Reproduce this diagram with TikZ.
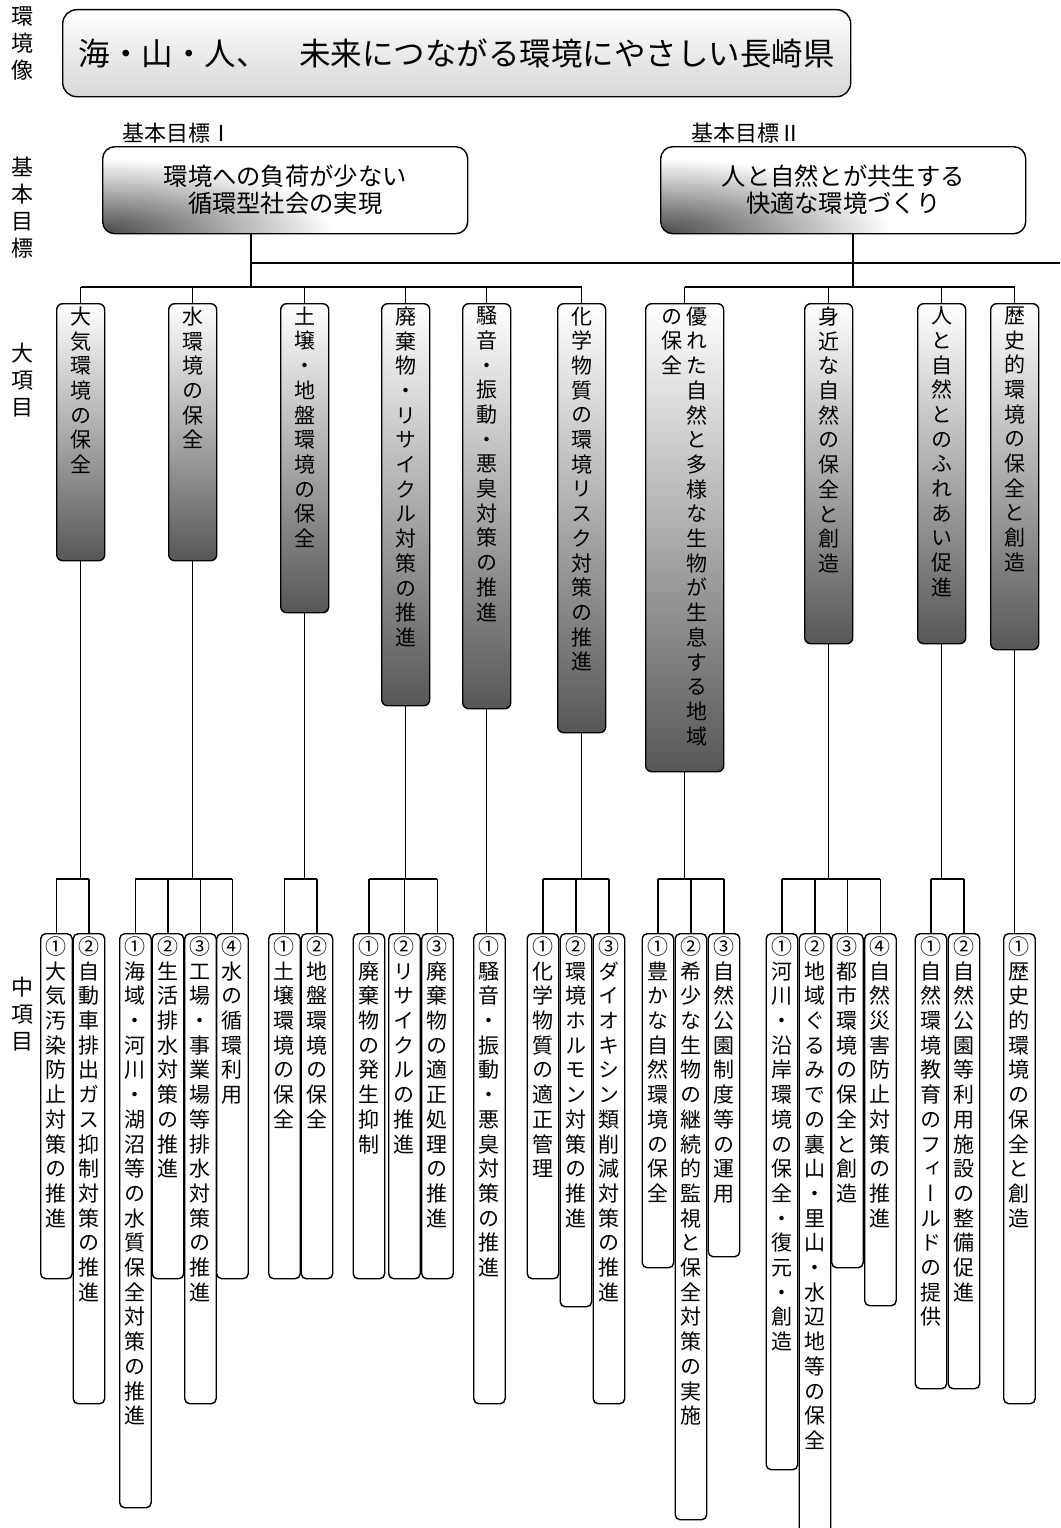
\documentclass[tikz,border=0pt]{standalone}
\usepackage{fontspec}
\setmainfont{Noto Sans CJK JP}
\newfontfamily\jp{Noto Sans CJK JP}
\newfontfamily\jpv{Noto Sans CJK JP}[RawFeature=+vert]

% vertical text: one character per line
\makeatletter
\newcommand\tate[2][24.7pt]{\vtop{\baselineskip=#1\lineskiplimit=-\maxdimen\lineskip=0pt
  \@tfor\tate@c:=#2\do{\hbox to 1em{\hss\tate@c\hss}}}}
\makeatother

% dark corner of the goal boxes
\colorlet{gdark}{black!72}
\pgfdeclareradialshading{goalshade}{\pgfpointorigin}{color(0bp)=(gdark); color(100bp)=(white); color(170bp)=(white)}

\begin{document}
\begin{tikzpicture}[x=1pt,y=-1pt,line width=1.4pt,
  side/.style={anchor=north,inner sep=0pt,font=\jp\fontsize{22}{27}\selectfont},
  tag/.style={inner sep=0pt,font=\jp\fontsize{22}{22}\selectfont},
  vision/.style={draw,rounded corners=14pt,top color=white,bottom color=black!16,
    anchor=north west,inner sep=0pt,font=\jp\fontsize{31.5}{31.5}\selectfont},
  goal/.style={draw,rounded corners=12pt,fill=white,
    path picture={\pgftransformshift{\pgfpointanchor{path picture bounding box}{south west}}
      \pgftransformxscale{2.3}\pgftransformyscale{0.75}\pgflowlevelsynccm\pgfuseshading{goalshade}},
    anchor=north west,minimum width=365,minimum height=87,inner sep=0pt,align=center,
    font=\jp\fontsize{24.3}{27}\selectfont},
  big/.style={draw,rounded corners=6pt,top color=white,middle color=black!20,bottom color=black!66,
    anchor=north west,minimum width=48,inner sep=0pt},
  mid/.style={draw,rounded corners=5pt,fill=white,anchor=north west,minimum width=31.5,inner sep=0pt},
  btxt/.style={anchor=north,inner sep=0pt,yshift=-3pt,font=\jpv\fontsize{21}{24.7}\selectfont},
  mtxt/.style={anchor=north,inner sep=0pt,yshift=-3pt,font=\jpv\fontsize{21}{24.7}\selectfont}]
\useasboundingbox (0,0) rectangle (1060,1528);

% headings on the left
\node[side] (s1) at (22,6) {\tate[27pt]{環境像}};
\node[side] (s2) at (22,156) {\tate[27pt]{基本目標}};
\node[side] (s3) at (22,342) {\tate[27pt]{大項目}};
\node[side] (s4) at (22,976) {\tate[27pt]{中項目}};

% vision
\node[vision,minimum width=788,minimum height=87] (vis) at (62,9) {海・山・人、　未来につながる環境にやさしい長崎県};

% basic goals
\node[tag] (t1) at (177,133) {基本目標Ⅰ};
\node[tag] (t2) at (746,133) {基本目標Ⅱ};
\node[goal] (g1) at (102,146) {環境への負荷が少ない\\循環型社会の実現};
\node[goal] (g2) at (660,146) {人と自然とが共生する\\快適な環境づくり};

% main items
\node[big,minimum height=257,label={[btxt]north:\tate{大気環境の保全}}] (d1) at (56,303) {};
\node[big,minimum height=257,label={[btxt]north:\tate{水環境の保全}}] (d2) at (168,303) {};
\node[big,minimum height=309,label={[btxt]north:\tate{土壌・地盤環境の保全}}] (d3) at (280,303) {};
\node[big,minimum height=402,label={[btxt]north:\tate{廃棄物・リサイクル対策の推進}}] (d4) at (381,303) {};
\node[big,minimum height=405,label={[btxt]north:\tate{騒音・振動・悪臭対策の推進}}] (d5) at (462,303) {};
\node[big,minimum height=429,label={[btxt]north:\tate{化学物質の環境リスク対策の推進}}] (d6) at (557,303) {};
\node[big,minimum width=78,minimum height=468,
  label={[btxt]north:\tate{の保全}\hspace{4pt}\tate{優れた自然と多様な生物が生息する地域}}] (d7) at (645,303) {};
\node[big,minimum height=340,label={[btxt]north:\tate{身近な自然の保全と創造}}] (d8) at (804,303) {};
\node[big,minimum height=340,label={[btxt]north:\tate{人と自然とのふれあい促進}}] (d9) at (917,303) {};
\node[big,minimum height=346,label={[btxt]north:\tate{歴史的環境の保全と創造}}] (d10) at (990,303) {};

% sub items
\node[mid,minimum height=345,label={[mtxt]north:\tate{①大気汚染防止対策の推進}}] (m11) at (40,933) {};
\node[mid,minimum height=470,label={[mtxt]north:\tate{②自動車排出ガス抑制対策の推進}}] (m12) at (72.5,933) {};
\node[mid,minimum height=574,label={[mtxt]north:\tate{①海域・河川・湖沼等の水質保全対策の推進}}] (m21) at (119,933) {};
\node[mid,minimum height=345,label={[mtxt]north:\tate{②生活排水対策の推進}}] (m22) at (151.5,933) {};
\node[mid,minimum height=470,label={[mtxt]north:\tate{③工場・事業場等排水対策の推進}}] (m23) at (184,933) {};
\node[mid,minimum height=345,label={[mtxt]north:\tate{④水の循環利用}}] (m24) at (216,933) {};
\node[mid,minimum height=345,label={[mtxt]north:\tate{①土壌環境の保全}}] (m31) at (268,933) {};
\node[mid,minimum height=345,label={[mtxt]north:\tate{②地盤環境の保全}}] (m32) at (300.5,933) {};
\node[mid,minimum height=345,label={[mtxt]north:\tate{①廃棄物の発生抑制}}] (m41) at (352.5,933) {};
\node[mid,minimum height=345,label={[mtxt]north:\tate{②リサイクルの推進}}] (m42) at (388,933) {};
\node[mid,minimum height=345,label={[mtxt]north:\tate{③廃棄物の適正処理の推進}}] (m43) at (421,933) {};
\node[mid,minimum height=470,label={[mtxt]north:\tate{①騒音・振動・悪臭対策の推進}}] (m51) at (473,933) {};
\node[mid,minimum height=345,label={[mtxt]north:\tate{①化学物質の適正管理}}] (m61) at (526.5,933) {};
\node[mid,minimum height=373,label={[mtxt]north:\tate{②環境ホルモン対策の推進}}] (m62) at (559.5,933) {};
\node[mid,minimum height=470,label={[mtxt]north:\tate{③ダイオキシン類削減対策の推進}}] (m63) at (592.5,933) {};
\node[mid,minimum height=334,label={[mtxt]north:\tate{①豊かな自然環境の保全}}] (m71) at (641.5,933) {};
\node[mid,minimum height=586,label={[mtxt]north:\tate{②希少な生物の継続的監視と保全対策の実施}}] (m72) at (674.5,933) {};
\node[mid,minimum height=323,label={[mtxt]north:\tate{③自然公園制度等の運用}}] (m73) at (707.5,933) {};
\node[mid,minimum height=536,label={[mtxt]north:\tate{①河川・沿岸環境の保全・復元・創造}}] (m81) at (765.5,933) {};
\node[mid,minimum height=610,label={[mtxt]north:\tate{②地域ぐるみでの裏山・里山・水辺地等の保全}}] (m82) at (798.5,933) {};
\node[mid,minimum height=334,label={[mtxt]north:\tate{③都市環境の保全と創造}}] (m83) at (831,933) {};
\node[mid,minimum height=372,label={[mtxt]north:\tate{④自然災害防止対策の推進}}] (m84) at (864,933) {};
\node[mid,minimum height=455,label={[mtxt]north:\tate{①自然環境教育のフィールドの提供}}] (m91) at (914.5,933) {};
\node[mid,minimum height=455,label={[mtxt]north:\tate{②自然公園等利用施設の整備促進}}] (m92) at (947.5,933) {};
\node[mid,minimum height=470,label={[mtxt]north:\tate{①歴史的環境の保全と創造}}] (m101) at (1003,933) {};

% connectors
\coordinate (j1) at (251,287);
\coordinate (j2) at (853,287);
\coordinate (e) at (1060,263);
\coordinate (k) at (0,879);
\draw (g1.south -| j1) -- (j1);
\draw (j1 |- e) -- (e);
\draw (g2.south -| j2) -- (j2);
\draw (d1.north |- j1) -- (d6.north |- j1);
\draw (d7.north |- j2) -- (d10.north |- j2);
\foreach \n in {d1,d2,d3,d4,d5,d6,d7,d8,d9,d10}
  \draw (\n.north |- j1) -- (\n.north);
\foreach \d/\a/\b in {d1/m11/m12,d2/m21/m24,d3/m31/m32,d4/m41/m43,d6/m61/m63,d7/m71/m73,d8/m81/m84,d9/m91/m92}{
  \draw (\d.south) -- (\d.south |- k);
  \draw (\a.north |- k) -- (\b.north |- k);
}
\foreach \m in {m11,m12,m21,m22,m23,m24,m31,m32,m41,m42,m43,m61,m62,m63,m71,m72,m73,m81,m82,m83,m84,m91,m92}
  \draw (\m.north |- k) -- (\m.north);
\draw (d5.south) -- (d5.south |- m51.north);
\draw (d10.south) -- (d10.south |- m101.north);
\end{tikzpicture}
\end{document}
